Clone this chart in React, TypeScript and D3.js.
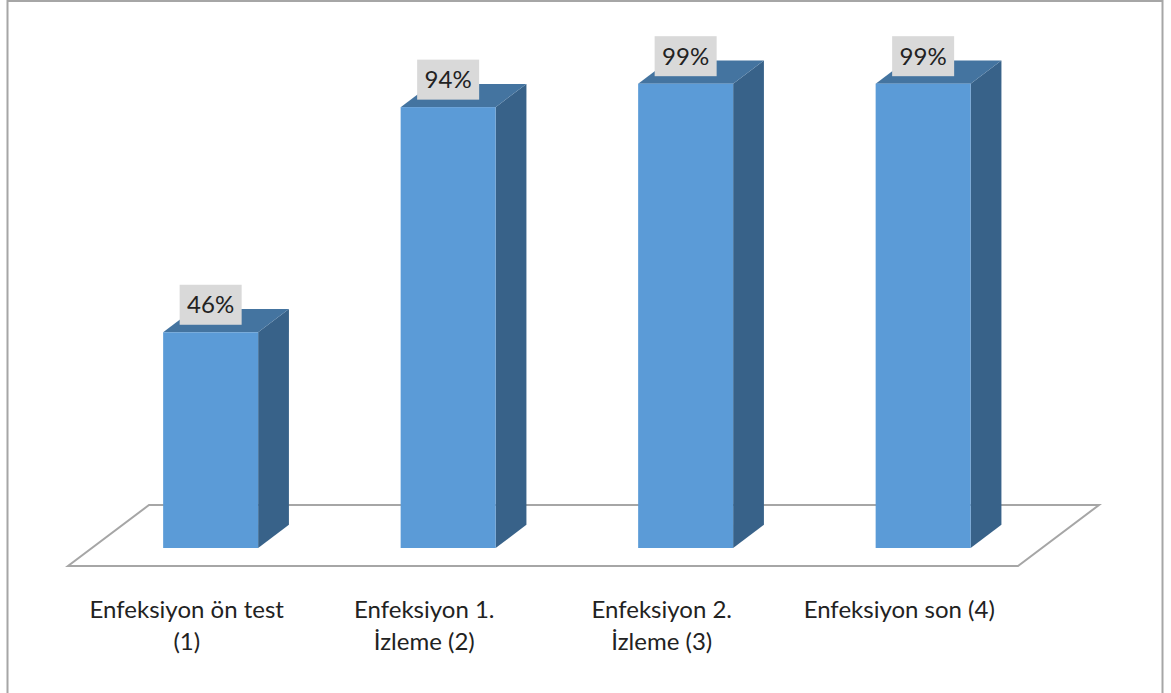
import React from "react";
import * as d3 from "d3";

const categories: string[][] = [
  ["Enfeksiyon ön test", "(1)"],
  ["Enfeksiyon 1.", "İzleme (2)"],
  ["Enfeksiyon 2.", "İzleme (3)"],
  ["Enfeksiyon son (4)"],
];
const values: number[] = [46, 94, 99, 99];
const valueLabels: string[] = ["46%", "94%", "99%", "99%"];

const W = 1171;
const H = 693;

// floor parallelogram (front edge + depth vector)
const floorFrontY = 566;
const floorLeft = 68;
const floorRight = 1018;
const depthX = 81;
const depthY = 61;
// bar placement inside the floor depth
const barFrontFrac = 0.295;
const barDepthFrac = 0.38;

const FONT = "Lato, 'Open Sans', sans-serif";

export default function App() {
  const keys = categories.map((_, i) => String(i));
  const x = d3.scaleBand<string>().domain(keys).range([floorLeft, floorRight]).padding(0);
  const baseY = floorFrontY - barFrontFrac * depthY;
  const shiftX = barFrontFrac * depthX;
  const y = d3.scaleLinear().domain([0, 100]).range([baseY, 79]);
  const barW = x.bandwidth() * 0.4;
  const dx = barDepthFrac * depthX;
  const dy = barDepthFrac * depthY;

  const floor = [
    [floorLeft, floorFrontY],
    [floorRight, floorFrontY],
    [floorRight + depthX, floorFrontY - depthY],
    [floorLeft + depthX, floorFrontY - depthY],
  ];

  return (
    <svg
      width={W}
      height={H}
      style={{ position: "absolute", left: 0, top: 0, background: "#fff" }}
      fontFamily={FONT}
    >
      <rect x={7.5} y={1} width={1155} height={720} fill="#fff" stroke="#a6a6a6" strokeWidth={2} />
      <polygon
        points={floor.map((p) => p.join(",")).join(" ")}
        fill="#fff"
        stroke="#a6a6a6"
        strokeWidth={2}
      />
      {values.map((v, i) => {
        const cx = (x(String(i)) as number) + x.bandwidth() / 2 + shiftX;
        const x0 = cx - barW / 2;
        const x1 = cx + barW / 2;
        const yt = y(v);
        const yb = y(0);
        const top = [
          [x0, yt],
          [x1, yt],
          [x1 + dx, yt - dy],
          [x0 + dx, yt - dy],
        ];
        const side = [
          [x1, yt],
          [x1 + dx, yt - dy],
          [x1 + dx, yb - dy],
          [x1, yb],
        ];
        const ly = yt - 27.5;
        return (
          <g key={i}>
            <polygon points={side.map((p) => p.join(",")).join(" ")} fill="#386289" />
            <polygon points={top.map((p) => p.join(",")).join(" ")} fill="#4474a0" />
            <rect x={x0} y={yt} width={barW} height={yb - yt} fill="#5b9bd7" />
            <rect x={cx - 31} y={ly - 20} width={62} height={40} fill="#d9d9d9" />
            <text x={cx} y={ly + 8.5} textAnchor="middle" fontSize={24} fill="#222">
              {valueLabels[i]}
            </text>
          </g>
        );
      })}
      {categories.map((lines, i) => {
        const cx = (x(String(i)) as number) + x.bandwidth() / 2;
        return (
          <text key={i} x={cx} textAnchor="middle" fontSize={24} fill="#222">
            {lines.map((t, j) => (
              <tspan key={j} x={cx} y={618 + j * 32}>
                {t}
              </tspan>
            ))}
          </text>
        );
      })}
    </svg>
  );
}
